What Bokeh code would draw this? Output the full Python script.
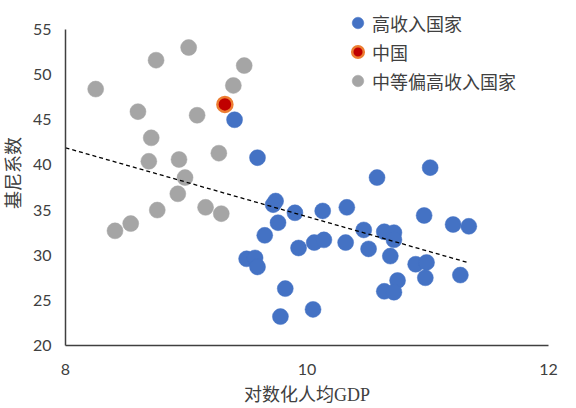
from bokeh.plotting import figure
from bokeh.embed import file_html
from bokeh.resources import INLINE
from bokeh.models import Legend, LegendItem, FixedTicker

# ---- data ----
high_x = [9.40, 9.59, 10.58, 11.02, 9.74, 9.72, 9.90, 10.13, 10.33, 9.76, 9.65, 9.93, 10.06,
          10.14, 10.32, 10.47, 10.51, 10.64, 10.72, 10.72, 10.69, 10.97, 11.21, 11.34, 10.90,
          10.99, 10.98, 11.27, 10.75, 10.64, 10.72, 9.50, 9.57, 9.59, 9.82, 9.78, 10.05]
high_y = [45.0, 40.8, 38.6, 39.7, 36.0, 35.6, 34.7, 34.9, 35.3, 33.6, 32.2, 30.8, 31.4,
          31.7, 31.4, 32.8, 30.7, 32.6, 32.5, 31.7, 29.9, 34.4, 33.4, 33.2, 29.0,
          29.2, 27.5, 27.8, 27.2, 26.0, 25.9, 29.6, 29.7, 28.7, 26.3, 23.2, 24.0]

china_x = [9.32]
china_y = [46.7]

mid_x = [8.25, 8.60, 8.75, 8.71, 8.69, 9.02, 9.09, 8.94, 8.99, 8.93, 8.76, 8.54, 8.41,
         9.16, 9.29, 9.27, 9.39, 9.48]
mid_y = [48.4, 45.9, 51.6, 43.0, 40.4, 53.0, 45.5, 40.6, 38.6, 36.8, 35.0, 33.5, 32.7,
         35.3, 34.6, 41.3, 48.8, 51.0]

trend_x = [8.0, 11.33]
trend_y = [41.9, 29.2]

x_ticks = [8, 10, 12]
y_ticks = [20, 25, 30, 35, 40, 45, 50, 55]

series_names = ["高收入国家", "中国", "中等偏高收入国家"]
x_title = "对数化人均GDP"
y_title = "基尼系数"

# ---- figure ----
# frame reaches the top of the canvas so the legend is not clipped; the y axis line stops at 55
p = figure(width=576, height=408, x_range=(8, 12), y_range=(20, 58.21),
           output_backend="svg", toolbar_location=None,
           min_border_left=64, min_border_right=28, min_border_top=0, min_border_bottom=63)
p.outline_line_color = None
p.grid.visible = False

r_high = p.scatter(high_x, high_y, size=16, fill_color="#4472C4", line_color="#4472C4", line_width=0.5)
r_china = p.scatter(china_x, china_y, size=15, fill_color="#C00000", line_color="#ED7D31", line_width=2.5)
r_mid = p.scatter(mid_x, mid_y, size=16, fill_color="#A5A5A5", line_color="#A5A5A5", line_width=0.5)
p.line(trend_x, trend_y, line_color="black", line_width=1.3, line_dash="4 3")

label_font = "Liberation Serif, Noto Sans CJK SC"
tick_font = "Lato"

for ax in (p.xaxis, p.yaxis):
    ax.axis_line_color = "#404040"
    ax.axis_line_width = 1.5
    ax.major_tick_line_color = None
    ax.minor_tick_line_color = None
    ax.major_tick_out = 0
    ax.major_tick_in = 0
    ax.major_label_text_font = tick_font
    ax.major_label_text_font_size = "16px"
    ax.major_label_text_color = "#404040"
    ax.axis_label_text_font = label_font
    ax.axis_label_text_font_size = "18px"
    ax.axis_label_text_font_style = "normal"
    ax.axis_label_text_color = "#404040"

p.xaxis.ticker = FixedTicker(ticks=x_ticks)
p.yaxis.ticker = FixedTicker(ticks=y_ticks)
p.yaxis.bounds = (20, 55)
p.xaxis.major_label_standoff = 18
p.yaxis.major_label_standoff = 14
p.xaxis.axis_label = x_title
p.yaxis.axis_label = y_title
p.xaxis.axis_label_standoff = 7
p.yaxis.axis_label_standoff = 6

legend = Legend(items=[LegendItem(label=series_names[0], renderers=[r_high]),
                       LegendItem(label=series_names[1], renderers=[r_china]),
                       LegendItem(label=series_names[2], renderers=[r_mid])],
                location=(278, 250), orientation="vertical")
legend.glyph_width = 29
legend.glyph_height = 29
legend.label_height = 29
legend.spacing = 0
legend.padding = 0
legend.margin = 0
legend.label_standoff = -2
legend.border_line_color = None
legend.background_fill_alpha = 0
legend.label_text_font = label_font
legend.label_text_font_size = "18px"
legend.label_text_color = "#404040"
p.add_layout(legend, "center")

open("out.html", "w").write(file_html(p, INLINE))
